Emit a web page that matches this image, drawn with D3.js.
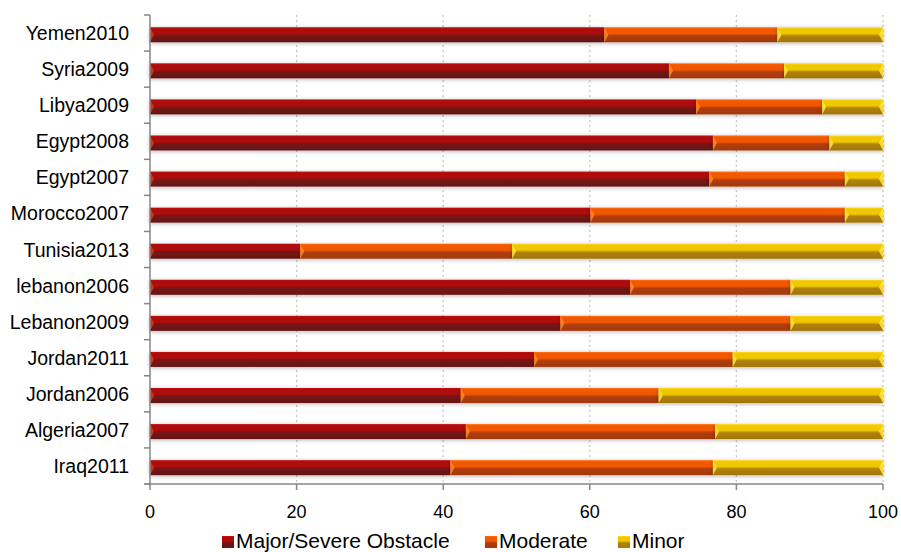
<!DOCTYPE html>
<html><head><meta charset="utf-8">
<script src="https://cdnjs.cloudflare.com/ajax/libs/d3/7.8.5/d3.min.js"></script>
<style>body{margin:0;background:#fff}svg{display:block}text{font-family:"Liberation Sans",Arial,sans-serif;fill:#000}</style>
</head><body><svg id="c" width="901" height="552"></svg>
<script>
const categories = ["Yemen2010","Syria2009","Libya2009","Egypt2008","Egypt2007","Morocco2007","Tunisia2013","lebanon2006","Lebanon2009","Jordan2011","Jordan2006","Algeria2007","Iraq2011"];
const seriesNames = ["Major/Severe Obstacle","Moderate","Minor"];
const major    = [62.0,70.8,74.5,76.8,76.3,60.1,20.5,65.5,56.0,52.4,42.4,43.1,41.0];
const moderate = [23.6,15.7,17.2,15.9,18.5,34.7,28.9,21.9,31.4,27.1,27.0,34.0,35.8];
const minor    = [14.4,13.5,8.3,7.3,5.2,5.2,50.6,12.6,12.6,20.5,30.6,22.9,23.2];
const xTicks = [0,20,40,60,80,100];

const svg = d3.select("#c");
const m = {l:150, r:18, t:15, b:68};
const W = 901, H = 552;
const x = d3.scaleLinear().domain([0,100]).range([m.l, W-m.r]);
const y = d3.scaleBand().domain(categories).range([m.t, H-m.b]);
const pal = [
  {top:"#c41212", mid:"#ad0909", low:"#741515", bot:"#651111", tri:"#e03a1a"},
  {top:"#ff7010", mid:"#f25800", low:"#b03d08", bot:"#a3380a", tri:"#ff8a20"},
  {top:"#ffd820", mid:"#f0c800", low:"#b0820a", bot:"#a27506", tri:"#ffe640"}
];
const defs = svg.append("defs");
pal.forEach((p,i)=>{
  const g = defs.append("linearGradient").attr("id","g"+i).attr("x1",0).attr("x2",0).attr("y1",0).attr("y2",1);
  [[0,p.top],[0.12,p.mid],[0.42,p.mid],[0.58,p.low],[1,p.bot]].forEach(s=>g.append("stop").attr("offset",s[0]).attr("stop-color",s[1]));
});
const f = defs.append("filter").attr("id","sh").attr("x","-5%").attr("y","-50%").attr("width","110%").attr("height","200%");
f.append("feDropShadow").attr("dx",0).attr("dy",1).attr("stdDeviation",2).attr("flood-color","#000").attr("flood-opacity",0.3);

// gridlines
svg.append("g").selectAll("line").data(xTicks.slice(1)).join("line")
  .attr("x1",d=>x(d)).attr("x2",d=>x(d)).attr("y1",m.t).attr("y2",H-m.b)
  .attr("stroke","#c8c8c8").attr("stroke-width",1.3).attr("stroke-dasharray","2,3");

const stacked = d3.stack().keys([0,1,2])(categories.map((c,i)=>({0:major[i],1:moderate[i],2:minor[i]})));
const bh = 15;
const by = c => y(c) + y.bandwidth()/2 - 5.8;
const gBars = svg.append("g");
stacked.forEach((layer,si)=>{
  const g = gBars.append("g");
  layer.forEach((d,i)=>{
    const c = categories[i];
    const x0 = x(d[0]), x1 = x(d[1]);
    if (x1 - x0 < 0.5) return;
    g.append("rect").attr("x",x0).attr("y",by(c)).attr("width",x1-x0).attr("height",bh)
      .attr("fill","url(#g"+si+")").attr("filter","url(#sh)");
  });
});
stacked.forEach((layer,si)=>{
  layer.forEach((d,i)=>{
    const c = categories[i];
    const x0 = x(d[0]), x1 = x(d[1]), t = by(c);
    gBars.append("path").attr("d",`M${x0},${t}L${x0+4},${t+bh/2}L${x0},${t+bh}Z`).attr("fill",pal[si].tri).attr("opacity",0.85);
    if (si===2) gBars.append("path").attr("d",`M${x1},${t}L${x1-4},${t+bh/2}L${x1},${t+bh}Z`).attr("fill",pal[si].tri).attr("opacity",0.85);
  });
});

// axes
const axC = "#868686";
svg.append("line").attr("x1",m.l).attr("x2",m.l).attr("y1",m.t).attr("y2",H-m.b).attr("stroke",axC).attr("stroke-width",1.5);
svg.append("line").attr("x1",m.l-5).attr("x2",W-m.r).attr("y1",H-m.b).attr("y2",H-m.b).attr("stroke",axC).attr("stroke-width",1.5);
const bounds = categories.map(c=>y(c)).concat([H-m.b]);
svg.append("g").selectAll("line").data(bounds).join("line")
  .attr("x1",m.l-6).attr("x2",m.l).attr("y1",d=>d).attr("y2",d=>d).attr("stroke",axC).attr("stroke-width",1.5);
svg.append("g").selectAll("line").data(xTicks).join("line")
  .attr("x1",d=>x(d)).attr("x2",d=>x(d)).attr("y1",H-m.b).attr("y2",H-m.b+6).attr("stroke",axC).attr("stroke-width",1.5);
svg.append("g").selectAll("text").data(categories).join("text")
  .attr("x",m.l-21).attr("y",c=>y(c)+y.bandwidth()/2).attr("dy","0.36em").attr("text-anchor","end")
  .attr("font-size",19.5).text(c=>c);
svg.append("g").selectAll("text").data(xTicks).join("text")
  .attr("x",d=>x(d)).attr("y",518).attr("text-anchor","middle").attr("font-size",18).text(d=>d);

// legend
const legX = [222, 485, 618];
const lg = svg.append("g");
seriesNames.forEach((n,i)=>{
  lg.append("rect").attr("x",legX[i]).attr("y",536).attr("width",12).attr("height",12).attr("fill","url(#g"+i+")");
  lg.append("path").attr("d",`M${legX[i]+2},548L${legX[i]+6},542L${legX[i]+10},548Z`).attr("fill",pal[i].low).attr("opacity",0.7);
  lg.append("text").attr("x",legX[i]+14).attr("y",548).attr("font-size",21).text(n);
});
</script></body></html>
